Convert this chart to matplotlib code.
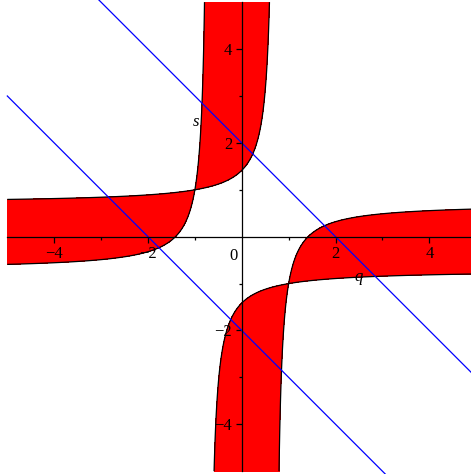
import numpy as np
import matplotlib
matplotlib.use("Agg")
import matplotlib.pyplot as plt

# ================== DATA ==================
Q_RANGE = [-5, 5]          # plotted domain of q
S_RANGE = [-5, 5]          # plotted domain of s
CURVE_C = 2.0              # boundary: (q - s)^2 = C * (1 + (q s)^2)
LINE_INTERCEPTS = [2, -2]  # straight lines s = -q + b
X_TICKS = [-4, -2, 2, 4]
Y_TICKS = [-4, -2, 2, 4]
MINOR_TICKS = [-3, -1, 1, 3]

plt.rcParams["font.family"] = ["Liberation Serif", "DejaVu Serif"]
plt.rcParams["axes.unicode_minus"] = True

fig = plt.figure(figsize=(4.71, 4.74), dpi=100)
ax = fig.add_axes([0, 0, 1, 1])

# red region between the two branches of the implicit curve
q = np.linspace(Q_RANGE[0], Q_RANGE[1], 2001)
s = np.linspace(S_RANGE[0], S_RANGE[1], 2001)
Q, S = np.meshgrid(q, s)
F = (Q - S) ** 2 - CURVE_C * (1 + (Q * S) ** 2)

ax.contourf(Q, S, F, levels=[0, F.max() + 1], colors=["#ff0000"], zorder=1)
ax.contour(Q, S, F, levels=[0], colors="black", linewidths=0.9, zorder=2)

# blue lines
for b in LINE_INTERCEPTS:
    ax.plot(q, -q + b, color="#0000ff", linewidth=0.9, zorder=3)

ax.set_xlim(-5.156, 4.889)
ax.set_ylim(-5.06, 5.047)

# Maple-style axes through the origin
for side in ["top", "right"]:
    ax.spines[side].set_visible(False)
ax.spines["left"].set_position(("data", 0))
ax.spines["bottom"].set_position(("data", 0))
ax.spines["left"].set_bounds(S_RANGE[0], S_RANGE[1])
ax.spines["bottom"].set_bounds(Q_RANGE[0], Q_RANGE[1])
for side in ["left", "bottom"]:
    ax.spines[side].set_linewidth(0.9)
    ax.spines[side].set_zorder(4)

ax.set_xticks(X_TICKS)
ax.set_yticks(Y_TICKS)
ax.set_xticks(MINOR_TICKS, minor=True)
ax.set_yticks(MINOR_TICKS, minor=True)
ax.tick_params(which="major", direction="out", length=4, width=0.9,
               labelsize=12, pad=3)
ax.tick_params(which="minor", direction="out", length=2.5, width=0.9)

ax.text(-0.175, -0.24, "0", fontsize=12, ha="center", va="top")
ax.text(2.5, -0.86, "q", fontsize=12, style="italic", ha="center", va="center")
ax.text(-0.98, 2.45, "s", fontsize=12, style="italic", ha="center", va="center")

fig.savefig("out.png", dpi=100)
